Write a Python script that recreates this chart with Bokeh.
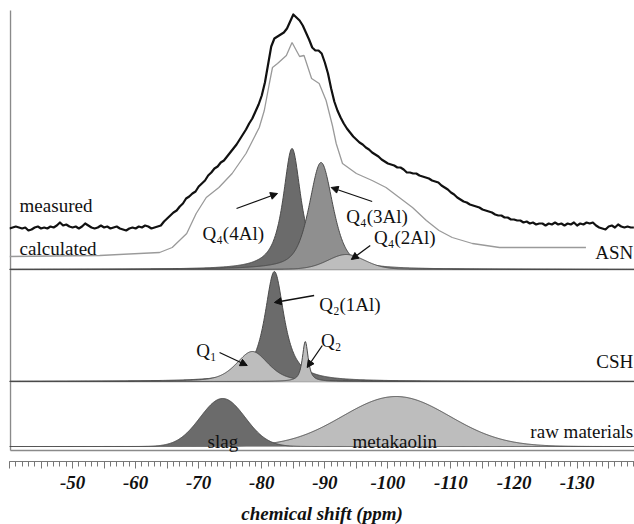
import numpy as np
from bokeh.plotting import figure
from bokeh.models import Range1d, FixedTicker, CustomJSTickFormatter, Label, Arrow, NormalHead
from bokeh.embed import file_html
from bokeh.resources import INLINE

# ---------------- data ----------------
# measured spectrum, sampled every 0.5 ppm (intensity above its own baseline, a.u.)
measured_ppm = [
    -40.0, -40.5, -41.0, -41.5, -42.0, -42.5, -43.0, -43.5, -44.0, -44.5,
    -45.0, -45.5, -46.0, -46.5, -47.0, -47.5, -48.0, -48.5, -49.0, -49.5,
    -50.0, -50.5, -51.0, -51.5, -52.0, -52.5, -53.0, -53.5, -54.0, -54.5,
    -55.0, -55.5, -56.0, -56.5, -57.0, -57.5, -58.0, -58.5, -59.0, -59.5,
    -60.0, -60.5, -61.0, -61.5, -62.0, -62.5, -63.0, -63.5, -64.0, -64.5,
    -65.0, -65.5, -66.0, -66.5, -67.0, -67.5, -68.0, -68.5, -69.0, -69.5,
    -70.0, -70.5, -71.0, -71.5, -72.0, -72.5, -73.0, -73.5, -74.0, -74.5,
    -75.0, -75.5, -76.0, -76.5, -77.0, -77.5, -78.0, -78.5, -79.0, -79.5,
    -80.0, -80.5, -81.0, -81.5, -82.0, -82.5, -83.0, -83.5, -84.0, -84.5,
    -85.0, -85.5, -86.0, -86.5, -87.0, -87.5, -88.0, -88.5, -89.0, -89.5,
    -90.0, -90.5, -91.0, -91.5, -92.0, -92.5, -93.0, -93.5, -94.0, -94.5,
    -95.0, -95.5, -96.0, -96.5, -97.0, -97.5, -98.0, -98.5, -99.0, -99.5,
    -100.0, -100.5, -101.0, -101.5, -102.0, -102.5, -103.0, -103.5, -104.0, -104.5,
    -105.0, -105.5, -106.0, -106.5, -107.0, -107.5, -108.0, -108.5, -109.0, -109.5,
    -110.0, -110.5, -111.0, -111.5, -112.0, -112.5, -113.0, -113.5, -114.0, -114.5,
    -115.0, -115.5, -116.0, -116.5, -117.0, -117.5, -118.0, -118.5, -119.0, -119.5,
    -120.0, -120.5, -121.0, -121.5, -122.0, -122.5, -123.0, -123.5, -124.0, -124.5,
    -125.0, -125.5, -126.0, -126.5, -127.0, -127.5, -128.0, -128.5, -129.0, -129.5,
    -130.0, -130.5, -131.0, -131.5, -132.0, -132.5, -133.0, -133.5, -134.0, -134.5,
    -135.0, -135.5, -136.0, -136.5, -137.0, -137.5, -138.0, -138.5, -139.0]
measured_int = [
    0, 1, 2, 1, 0, 1, -2, -1, 1, 2,
    0, 1, 0, 2, 1, 3, 6, 3, 4, 2,
    1, 2, 0, 2, 5, 3, 1, 0, 1, 3,
    1, 2, 0, 1, 2, 0, -1, -2, 0, 1,
    0, 2, 1, 3, 2, 0, 1, 2, 3, 7,
    10, 13, 16, 18, 22, 25, 30, 32, 35, 37,
    42, 45, 48, 53, 56, 60, 62, 66, 68, 72,
    76, 80, 84, 89, 94, 99, 105, 110, 117, 124,
    133, 146, 164, 182, 190, 192, 194, 196, 200, 207,
    214, 211, 208, 203, 196, 189, 181, 178, 178, 175,
    166, 155, 140, 127, 118, 111, 105, 100, 96, 92,
    89, 86, 84, 81, 79, 76, 74, 72, 69, 67,
    65, 64, 63, 61, 61, 59, 56, 56, 55, 55,
    53, 52, 51, 50, 48, 47, 46, 43, 41, 39,
    36, 34, 31, 29, 27, 26, 24, 23, 22, 21,
    19, 18, 17, 16, 14, 13, 13, 11, 11, 9,
    9, 8, 8, 6, 7, 5, 6, 4, 5, 5,
    3, 5, 4, 6, 4, 5, 3, 5, 4, 6,
    3, 5, 4, 6, 5, 6, 3, 1, 0, -1,
    2, 3, 1, 4, 2, 1, 2, 1, 1]

# calculated (fitted) spectrum
calc_ppm = [-40.0, -54.3, -63.8, -65.8, -68.1, -69.6, -71.2, -73.2, -75.3, -77.5,
            -79.6, -80.4, -81.2, -81.7, -82.5, -83.9, -84.8, -86.0, -86.7, -87.9,
            -89.1, -90.2, -91.2, -91.8, -92.8, -95.0, -97.5, -99.7, -101.8, -103.9,
            -106.1, -108.1, -110.2, -113.4, -117.7, -122.9, -131.4]
calc_int = [0, 1, 4, 9, 23, 43, 59, 69, 83, 103,
            129, 146, 173, 189, 193, 201, 214, 200, 201, 178,
            173, 156, 131, 113, 93, 83, 76, 69, 59, 49,
            36, 26, 19, 13, 9, 9, 9]

# fitted components: centre (ppm), height (a.u.), FWHM (ppm), Lorentzian fraction
asn_names = ["Q4(4Al)", "Q4(3Al)", "Q4(2Al)"]
asn_center = [-84.8, -89.4, -93.4]
asn_height = [121, 107, 15]
asn_fwhm = [3.4, 4.5, 7.0]
asn_eta = [0.9, 0.6, 0.2]

csh_names = ["Q2(1Al)", "Q1", "Q2"]
csh_center = [-82.0, -78.5, -86.9]
csh_height = [110, 30, 40]
csh_fwhm = [3.7, 6.0, 1.1]
csh_eta = [0.9, 0.5, 0.8]

raw_names = ["metakaolin", "slag"]
raw_center = [-101.3, -73.8]
raw_height = [50, 48]
raw_fwhm = [20.0, 8.4]
raw_eta = [0.0, 0.0]

tick_major = list(range(-40, -141, -5))
tick_minor = list(range(-40, -141, -1))

# ---------------- layout / style ----------------
SERIF = "Liberation Serif"
MEAS_OFF, CALC_OFF = 233, 205
ASN_BASE, CSH_BASE, RAW_BASE, BOTTOM = 192, 80, 15, 11
DARK, MED, LIGHT, EDGE = "#6b6b6b", "#8f8f8f", "#bdbdbd", "#4a4a4a"
TXT = "#111111"

p = figure(frame_width=625, frame_height=461, x_range=Range1d(-40.0, -139.1),
           y_range=Range1d(0, 461), output_backend="svg", toolbar_location=None,
           min_border_left=9, min_border_right=0, min_border_top=0, min_border_bottom=0)
p.outline_line_color = None
p.grid.visible = False
p.yaxis.visible = False
p.background_fill_color = "white"

xs = np.linspace(-40.0, -139.1, 1200)


def pv(c, h, w, eta):
    u = (xs - c) / (w / 2.0)
    return h * (eta / (1 + u * u) + (1 - eta) * np.exp(-np.log(2) * u * u))


def draw_group(base, centers, heights, fwhms, etas, colors):
    for c, h, w, e, col in zip(centers, heights, fwhms, etas, colors):
        y = base + pv(c, h, w, e)
        p.varea(x=xs, y1=base, y2=y, fill_color=col)
        p.line(xs, y, line_color=EDGE, line_width=1)


# frame lines
for yb in [ASN_BASE, CSH_BASE, BOTTOM]:
    p.line([-40.15, -139.1], [yb, yb], line_color="#8a8a8a", line_width=1.5)
p.line([-40.15, -40.15], [BOTTOM, 451], line_color="#8a8a8a", line_width=1.5)

draw_group(ASN_BASE, asn_center, asn_height, asn_fwhm, asn_eta, [DARK, MED, LIGHT])
draw_group(CSH_BASE, csh_center, csh_height, csh_fwhm, csh_eta, [DARK, LIGHT, LIGHT])
draw_group(RAW_BASE, raw_center, raw_height, raw_fwhm, raw_eta, [LIGHT, DARK])

p.line(calc_ppm, [CALC_OFF + v for v in calc_int], line_color="#9a9a9a", line_width=1.3)
p.line(measured_ppm, [MEAS_OFF + v for v in measured_int], line_color="#111111",
       line_width=2.2, line_join="round")

# texts
labels = [
    ("measured", -41.6, 256, "left"),
    ("calculated", -41.6, 213, "left"),
    ("Q\u2084(4Al)", -70.6, 228, "left"),
    ("Q\u2084(3Al)", -93.4, 245, "left"),
    ("Q\u2084(2Al)", -97.8, 224, "left"),
    ("ASN", -138.9, 209, "right"),
    ("Q\u2082(1Al)", -89.1, 157, "left"),
    ("Q\u2081", -69.6, 111, "left"),
    ("Q\u2082", -89.4, 121, "left"),
    ("CSH", -138.9, 100, "right"),
    ("slag", -71.4, 20, "left"),
    ("metakaolin", -94.4, 20, "left"),
    ("raw materials", -138.9, 30, "right"),
]
for t, x, y, al in labels:
    p.add_layout(Label(x=x, y=y, text=t, text_font=SERIF, text_font_size="19px",
                       text_color=TXT, text_align=al, text_baseline="alphabetic"))

arrows = [
    (-76.0, 253, -82.5, 268),
    (-97.5, 260, -91.0, 274),
    (-97.2, 216, -94.2, 202),
    (-88.3, 166, -82.0, 159),
    (-73.3, 109, -77.7, 96),
    (-89.6, 116, -87.2, 94),
]
for xs0, ys0, xe, ye in arrows:
    p.add_layout(Arrow(x_start=xs0, y_start=ys0, x_end=xe, y_end=ye, line_color="#111111",
                       line_width=1.3,
                       end=NormalHead(size=7, fill_color="#111111", line_color="#111111")))

ax = p.xaxis[0]
ax.ticker = FixedTicker(ticks=tick_major, minor_ticks=tick_minor)
ax.formatter = CustomJSTickFormatter(
    code="var t = Math.round(tick); return (t % 10 == 0 && t != -40) ? String(t) : '';")
ax.axis_line_color = "#777777"
ax.major_tick_line_color = "#777777"
ax.minor_tick_line_color = "#777777"
ax.major_tick_in = 0
ax.major_tick_out = 7
ax.minor_tick_in = 0
ax.minor_tick_out = 5
ax.major_label_standoff = 7
ax.major_label_text_font = SERIF
ax.major_label_text_font_size = "19px"
ax.major_label_text_font_style = "bold italic"
ax.major_label_text_color = TXT
ax.axis_label = "chemical shift (ppm)"
ax.axis_label_text_font = SERIF
ax.axis_label_text_font_size = "19px"
ax.axis_label_text_font_style = "bold italic"
ax.axis_label_text_color = TXT
ax.axis_label_standoff = 11

open("out.html", "w").write(file_html(p, INLINE))
